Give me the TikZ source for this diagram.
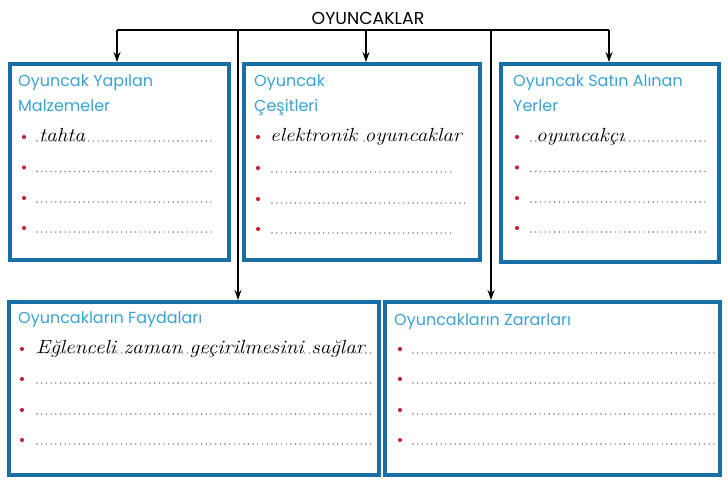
\documentclass[tikz,border=0pt]{standalone}
\usepackage{fontspec}
\newfontfamily\popp{Poppins}
\usetikzlibrary{arrows.meta}
\definecolor{boxblue}{HTML}{1A6EA6}
\definecolor{titleblue}{HTML}{3BA3D3}
\definecolor{bulletred}{HTML}{C8263A}
\definecolor{dotgray}{HTML}{7A7A7A}
\newcommand{\hw}[1]{\scalebox{1.12}[1]{\fontsize{19}{19}\selectfont\itshape #1}}
\begin{document}
\begin{tikzpicture}[x=1pt,y=-1pt,
  box/.style={draw=boxblue, line width=4pt, inner sep=0pt},
  conn/.style={draw=black, line width=1.8pt},
  arr/.style={conn, -{Stealth[length=10pt,width=7pt]}},
  btitle/.style={anchor=base west, inner sep=0pt, text=titleblue, font=\popp\fontsize{16}{24.5}\selectfont, align=left},
  bul/.style={fill=bulletred, draw=none, circle, inner sep=0pt, minimum size=4.2pt},
  dots/.style={draw=dotgray, line width=1.6pt, line cap=round, dash pattern=on 0pt off 4.7pt},
  hand/.style={anchor=base west, inner sep=0pt, text=black}]
\useasboundingbox (0,0) rectangle (728,491);
\fill[white] (0,0) rectangle (728,491);

% title
\node[anchor=base, inner sep=0pt, font=\popp\fontsize{17.3}{20}\selectfont] (title) at (368,24) {OYUNCAKLAR};

% boxes
\node[box, minimum width=219pt, minimum height=196pt] (tl) at (119.5,162) {};
\node[box, minimum width=236pt, minimum height=196pt] (tm) at (362,162) {};
\node[box, minimum width=218pt, minimum height=198pt] (tr) at (610,163) {};
\node[box, minimum width=370pt, minimum height=173pt] (bl) at (194,388.5) {};
\node[box, minimum width=335pt, minimum height=173pt] (br) at (552.5,388.5) {};

% connectors
\coordinate (a1) at (117,30);
\coordinate (a2) at (366,30);
\coordinate (a3) at (609,30);
\coordinate (a4) at (238,30);
\coordinate (a5) at (491,30);
\draw[conn] (a1) -- (a3);
\draw[arr] (a1) -- (a1 |- tl.north);
\draw[arr] (a2) -- (a2 |- tm.north);
\draw[arr] (a3) -- (a3 |- tr.north);
\draw[arr] (a4) -- (a4 |- bl.north);
\draw[arr] (a5) -- (a5 |- br.north);

% box titles
\node[btitle] (t1) at (18,111) {Oyuncak Yapılan\\Malzemeler};
\node[btitle] (t2) at (254,111) {Oyuncak\\Çeşitleri};
\node[btitle] (t3) at (513,111) {Oyuncak Satın Alınan\\Yerler};
\node[btitle] (t4) at (18,323) {Oyuncakların Faydaları};
\node[btitle] (t5) at (394,325) {Oyuncakların Zararları};

% top-left rows
\foreach \y [count=\i] in {141,171.5,202,232}{
  \node[bul] (tlb\i) at (24,\y-4) {};
  \draw[dots] (37,\y) -- (214,\y);
}
\node[hand] (h1) at (39,141) {\hw{tahta}};

% top-middle rows
\node[bul] (tmb1) at (258,137) {};
\node[hand] (h2) at (270,141) {\hw{elektronik oyuncaklar}};
\draw[dots] (364,141) -- (369,141);
\foreach \y/\e [count=\i from 2] in {172/452,203/466,233/452}{
  \node[bul] (tmb\i) at (258,\y-4) {};
  \draw[dots] (272,\y) -- (\e,\y);
}

% top-right rows
\foreach \y [count=\i] in {141,171.5,202,232}{
  \node[bul] (trb\i) at (517,\y-4) {};
  \draw[dots] (531,\y) -- (709,\y);
}
\node[hand] (h3) at (536,141) {\hw{oyuncakçı}};

% bottom-left rows
\foreach \y [count=\i] in {353,383,414,444}{
  \node[bul] (blb\i) at (22,\y-4) {};
  \draw[dots] (37,\y) -- (375,\y);
}
\node[hand] (h4) at (36,353) {\hw{Eğlenceli zaman geçirilmesini sağlar}};

% bottom-right rows
\foreach \y [count=\i] in {353,383,414,444}{
  \node[bul] (brb\i) at (400,\y-4) {};
  \draw[dots] (413,\y) -- (715,\y);
}
\end{tikzpicture}
\end{document}
